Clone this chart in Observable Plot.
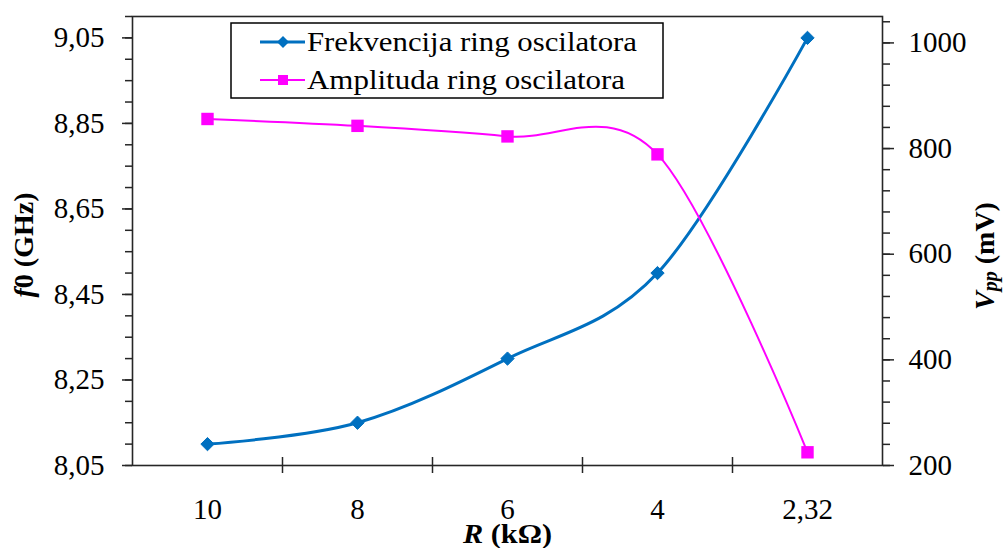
<!DOCTYPE html>
<html>
<head>
<meta charset="utf-8">
<script src="https://cdn.jsdelivr.net/npm/d3@7"></script>
<script src="https://cdn.jsdelivr.net/npm/@observablehq/plot@0.6"></script>
<style>
  html, body { margin: 0; padding: 0; background: #fff; }
  #chart { position: relative; width: 1003px; height: 548px; }
  #chart svg text { font-family: "Liberation Serif", "Times New Roman", serif; }
</style>
</head>
<body>
<div id="chart"></div>
<script>
// ---- data ----
const xLabels = ["10", "8", "6", "4", "2,32"];
const freqGHz = [8.10, 8.15, 8.30, 8.50, 9.05];
const ampMV = [856, 843, 823, 789, 225];
const seriesNames = ["Frekvencija ring oscilatora", "Amplituda ring oscilatora"];
const leftTicks = [8.05, 8.25, 8.45, 8.65, 8.85, 9.05];
const rightTicks = [200, 400, 600, 800, 1000];
const leftDomain = [8.05, 9.10];
const rightDomain = [200, 1050];

// map the secondary (mV) axis onto the primary (GHz) scale
const toLeft = v => leftDomain[0] + (v - rightDomain[0]) / (rightDomain[1] - rightDomain[0]) * (leftDomain[1] - leftDomain[0]);
const fromLeft = f => rightDomain[0] + (f - leftDomain[0]) / (leftDomain[1] - leftDomain[0]) * (rightDomain[1] - rightDomain[0]);

const rows = xLabels.map((label, i) => ({ i, label, f: freqGHz[i], a: toLeft(ampMV[i]) }));
const minorLeft = d3.range(0, 22).map(k => leftDomain[0] + k * 0.05);
const minorRight = d3.range(200, 1041, 40).map(toLeft);
const boundaries = d3.range(0.5, xLabels.length - 1, 1);

const BLUE = "#0070C0", MAG = "#FF00FF", AX = "#262626";
const FONT = "Liberation Serif, Times New Roman, serif";

const chart = Plot.plot({
  width: 1003,
  height: 548,
  marginLeft: 132,
  marginRight: 121,
  marginTop: 16,
  marginBottom: 83,
  style: { fontFamily: FONT, fontSize: "29px", color: "#000", background: "#fff" },
  x: { domain: [-0.5, xLabels.length - 0.5] },
  y: { domain: leftDomain },
  marks: [
    Plot.axisY(minorLeft, { anchor: "left", tickSize: 7, tickFormat: () => "", label: null, stroke: AX, strokeWidth: 1.5 }),
    Plot.axisY(leftTicks, { anchor: "left", tickSize: 10, tickPadding: 18, tickFormat: d => d.toFixed(2).replace(".", ","), label: null, stroke: AX, strokeWidth: 1.5, fontFamily: FONT }),
    Plot.axisY(minorRight, { anchor: "right", tickSize: 7, tickFormat: () => "", label: null, stroke: AX, strokeWidth: 1.5 }),
    Plot.axisY(rightTicks.map(toLeft), { anchor: "right", tickSize: 11, tickPadding: 15, tickFormat: d => String(Math.round(fromLeft(d))), label: null, stroke: AX, strokeWidth: 1.5, fontFamily: FONT }),
    Plot.axisX(d3.range(xLabels.length), { anchor: "bottom", tickSize: 0, tickPadding: 33, tickFormat: i => xLabels[i], label: null, fontFamily: FONT }),
    Plot.ruleX(boundaries, { y1: leftDomain[0], y2: leftDomain[0], insetTop: -8, insetBottom: -8, stroke: AX, strokeWidth: 1.5 }),
    Plot.frame({ stroke: AX, strokeWidth: 1.6 }),
    Plot.line(rows, { x: "i", y: "f", curve: "cardinal", stroke: BLUE, strokeWidth: 3 }),
    Plot.dot(rows, { x: "i", y: "f", symbol: "diamond2", r: 6, fill: BLUE, stroke: BLUE, strokeWidth: 1 }),
    Plot.line(rows, { x: "i", y: "a", curve: "cardinal", stroke: MAG, strokeWidth: 2 }),
    Plot.dot(rows, { x: "i", y: "a", symbol: "square", r: 7, fill: MAG, stroke: "none" })
  ]
});

document.getElementById("chart").appendChild(chart);

// ---- axis titles and legend ----
const svg = d3.select(chart);

// left title: f0 (GHz)
const lt = svg.append("text")
  .attr("transform", "translate(23,245) rotate(-90)")
  .attr("text-anchor", "middle").attr("dominant-baseline", "central")
  .attr("font-family", FONT).attr("font-size", 28).attr("font-weight", "bold").attr("fill", "#000");
lt.append("tspan").attr("font-style", "italic").text("f");
lt.append("tspan").text("0 (GHz)");

// right title: Vpp (mV)
const rt = svg.append("text")
  .attr("transform", "translate(984,256) rotate(-90)")
  .attr("text-anchor", "middle").attr("dominant-baseline", "central")
  .attr("font-family", FONT).attr("font-size", 28).attr("font-weight", "bold").attr("fill", "#000");
rt.append("tspan").attr("font-style", "italic").text("V");
rt.append("tspan").attr("font-style", "italic").attr("font-size", 20).attr("dy", 6).text("pp");
rt.append("tspan").attr("dy", -6).text(" (mV)");

// bottom title: R (kΩ)
const bt = svg.append("text")
  .attr("x", 463).attr("y", 543)
  .attr("text-anchor", "start")
  .attr("textLength", 89).attr("lengthAdjust", "spacingAndGlyphs")
  .attr("font-family", FONT).attr("font-size", 27).attr("font-weight", "bold").attr("fill", "#000");
bt.append("tspan").attr("font-style", "italic").text("R");
bt.append("tspan").text(" (kΩ)");

// legend
const lg = svg.append("g").attr("text-anchor", "start");
lg.append("rect").attr("x", 231).attr("y", 23).attr("width", 432).attr("height", 75)
  .attr("fill", "#fff").attr("stroke", "#000").attr("stroke-width", 1.5);
const entries = [
  { name: seriesNames[0], color: BLUE, sw: 3, y: 42, sym: "diamond", len: 330 },
  { name: seriesNames[1], color: MAG, sw: 2, y: 80, sym: "square", len: 318 }
];
entries.forEach(e => {
  lg.append("line").attr("x1", 260).attr("x2", 305).attr("y1", e.y).attr("y2", e.y)
    .attr("stroke", e.color).attr("stroke-width", e.sw);
  if (e.sym === "diamond") {
    lg.append("path").attr("d", `M283,${e.y - 6}L289,${e.y}L283,${e.y + 6}L277,${e.y}Z`).attr("fill", e.color);
  } else {
    lg.append("rect").attr("x", 278).attr("y", e.y - 5).attr("width", 10).attr("height", 10).attr("fill", e.color);
  }
  lg.append("text").attr("x", 307).attr("y", e.y + 9)
    .attr("text-anchor", "start")
    .attr("textLength", e.len).attr("lengthAdjust", "spacingAndGlyphs")
    .attr("font-family", FONT).attr("font-size", 28).attr("fill", "#000")
    .text(e.name);
});
</script>
</body>
</html>
